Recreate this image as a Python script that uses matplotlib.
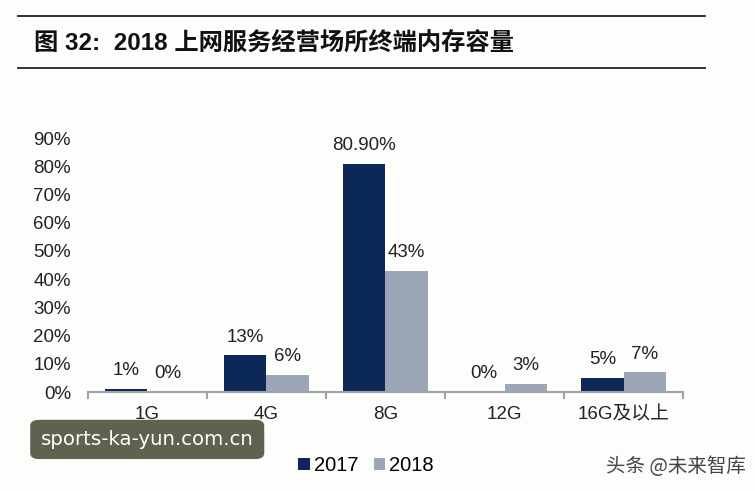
import numpy as np
import matplotlib.pyplot as plt
from matplotlib.patches import FancyBboxPatch

plt.rcParams['font.family'] = ['Liberation Sans', 'Noto Sans CJK SC', 'DejaVu Sans']

categories = ['1G', '4G', '8G', '12G', '16G及以上']
v2017 = [1, 13, 80.9, 0, 5]
v2018 = [0, 6, 43, 3, 7]
lab2017 = ['1%', '13%', '80.90%', '0%', '5%']
lab2018 = ['0%', '6%', '43%', '3%', '7%']
yticks = [0, 10, 20, 30, 40, 50, 60, 70, 80, 90]

c2017 = '#0c2857'
c2018 = '#9ba6b6'
bg = '#fdfdfb'

fig = plt.figure(figsize=(7.55, 4.91), dpi=100, facecolor=bg)
ax = fig.add_axes([0.116, 0.2016, 0.789, 0.517], facecolor=bg)

x = np.arange(len(categories))
w = 0.355
b1 = ax.bar(x - w / 2, v2017, w, color=c2017, label='2017')
b2 = ax.bar(x + w / 2, v2018, w, color=c2018, label='2018')

for bars, labs in ((b1, lab2017), (b2, lab2018)):
    for r, t in zip(bars, labs):
        ax.annotate(t, (r.get_x() + r.get_width() / 2, r.get_height()),
                    xytext=(0, 7), textcoords='offset points',
                    ha='center', va='bottom', fontsize=13.5, color='#222222')

ax.set_xlim(-0.5, 4.5)
ax.set_ylim(0, 90)
ax.set_yticks(yticks)
ax.set_yticklabels([f'{t}%' for t in yticks], fontsize=13.5, color='#222222')
ax.set_xticks(x)
ax.set_xticklabels(categories, fontsize=13.5, color='#222222')
ax.tick_params(axis='x', length=0, pad=10)
ax.tick_params(axis='y', length=0, pad=12)
for s in ['top', 'right', 'left']:
    ax.spines[s].set_visible(False)
ax.spines['bottom'].set_color('#a0a4aa')
ax.spines['bottom'].set_linewidth(1.5)
# boundary ticks on x axis
for b in np.arange(-0.5, 5.0, 1.0):
    ax.plot([b, b], [0, -2.2], color='#a0a4aa', lw=1.5, clip_on=False)

leg = fig.legend(handles=[b1, b2], loc='center', bbox_to_anchor=(0.485, 0.051),
                 ncol=2, frameon=False, fontsize=14.5, handlelength=0.55,
                 handleheight=0.55, handletextpad=0.2, columnspacing=0.8)

# title with rules
fig.add_artist(plt.Line2D([0.024, 0.934], [0.968, 0.968], color='#222222', lw=1.3))
fig.add_artist(plt.Line2D([0.024, 0.934], [0.862, 0.862], color='#222222', lw=1.3))
fig.text(0.045, 0.912, '图 32:  2018 上网服务经营场所终端内存容量', fontsize=17.5,
         fontweight='bold', va='center', ha='left', color='#111111')

# overlay marks
box = FancyBboxPatch((0.045, 0.07), 0.30, 0.07, boxstyle='round,pad=0.005,rounding_size=0.012',
                     transform=fig.transFigure, facecolor='#5f624f', edgecolor='none')
fig.add_artist(box)
fig.text(0.195, 0.105, 'sports-ka-yun.com.cn', fontsize=14.2, color='white',
         ha='center', va='center', family=['DejaVu Sans'])
fig.text(0.988, 0.05, '头条 @未来智库', fontsize=14, color='#444444',
         ha='right', va='center', family=['Noto Sans CJK SC', 'DejaVu Sans'])

fig.savefig('out.png', dpi=100, facecolor=bg)
